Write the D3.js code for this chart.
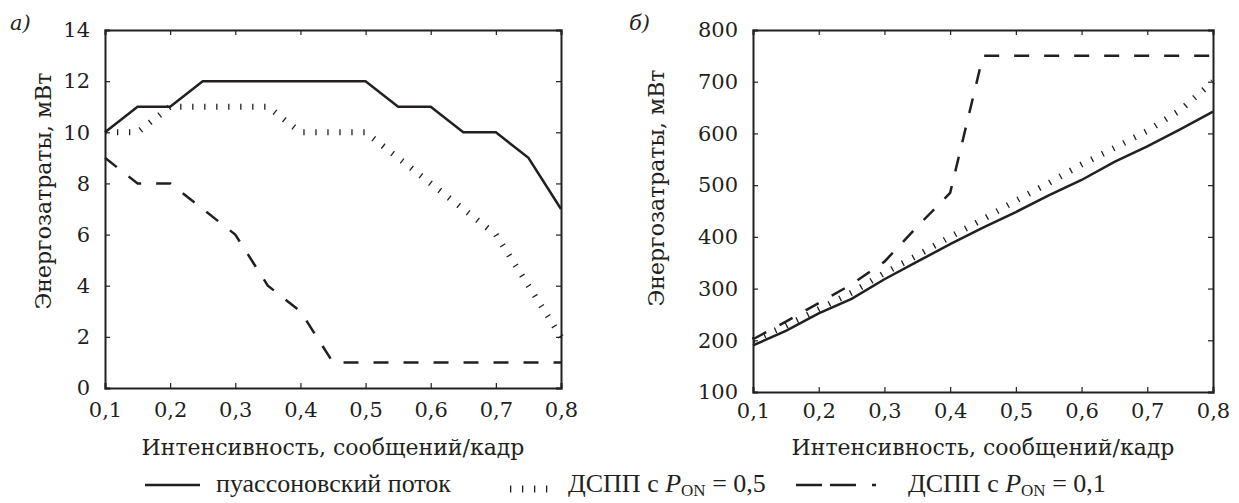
<!DOCTYPE html>
<html>
<head>
<meta charset="utf-8">
<script src="https://cdn.jsdelivr.net/npm/d3@7"></script>
<style>
  body { margin: 0; background: #fff; }
  svg text { font-family: "DejaVu Serif", serif; fill: #231f20; }
  .legend text { font-family: "Liberation Serif", serif; }
</style>
</head>
<body>
<div id="chart"></div>
<script>
// Intensity, messages/frame (x values shared by both panels)
var intensity = [0.1, 0.15, 0.2, 0.25, 0.3, 0.35, 0.4, 0.45, 0.5, 0.55, 0.6, 0.65, 0.7, 0.75, 0.8];
var xTicks = [0.1, 0.2, 0.3, 0.4, 0.5, 0.6, 0.7, 0.8];

// panel a) energy, mW
var poissonA = [10, 11, 11, 12, 12, 12, 12, 12, 12, 11, 11, 10, 10, 9, 7];
var onoff05A = [10, 10, 11, 11, 11, 11, 10, 10, 10, 9, 8, 7, 6, 4, 2];
var onoff01A = [9, 8, 8, 7, 6, 4, 3, 1, 1, 1, 1, 1, 1, 1, 1];
var yTicksA = [0, 2, 4, 6, 8, 10, 12, 14];

// panel b) energy, mW
var poissonB = [190, 218, 252, 280, 318, 352, 386, 418, 448, 480, 510, 545, 575, 608, 642];
var onoff05B = [200, 228, 260, 292, 330, 364, 400, 434, 470, 504, 540, 572, 605, 645, 700];
var onoff01B = [202, 236, 272, 308, 352, 420, 485, 750, 750, 750, 750, 750, 750, 750, 750];
var yTicksB = [100, 200, 300, 400, 500, 600, 700, 800];

var legendLabels = ["пуассоновский поток", "ДСПП с ", "ДСПП с "];
var legendP = ["", "0,5", "0,1"];

var fmt = function(d) { return String(d).replace(".", ","); };

var svg = d3.select("#chart").append("svg")
    .attr("width", 1239)
    .attr("height", 503);

// line styles for the three series
var styles = [
  {width: 2.5, dash: null},
  {width: 6, dash: "1.3,10.7"},
  {width: 2.5, dash: "15,15"}
];

const createPanel = (p) => {
  var x = d3.scaleLinear().domain([0.1, 0.8]).range([p.left, p.right]);
  var y = d3.scaleLinear().domain(p.yDomain).range([p.bottom, p.top]);

  var g = svg.append("g");

  var line = d3.line()
      .x(function(d, i) { return x(intensity[i]); })
      .y(function(d) { return y(d); });

  p.series.forEach(function(s, k) {
    g.append("path")
      .datum(s)
      .attr("d", line)
      .attr("fill", "none")
      .attr("stroke", "#231f20")
      .attr("stroke-width", styles[k].width)
      .attr("stroke-dasharray", styles[k].dash);
  });

  // axes, ticks inward on all four sides
  g.append("g")
      .attr("transform", "translate(0," + p.bottom + ")")
      .call(d3.axisBottom(x).tickValues(xTicks).tickSize(-5).tickPadding(p.xPad).tickFormat(fmt));
  g.append("g")
      .attr("transform", "translate(0," + p.top + ")")
      .call(d3.axisTop(x).tickValues(xTicks).tickSize(-5).tickFormat(""));
  g.append("g")
      .attr("transform", "translate(" + p.left + ",0)")
      .call(d3.axisLeft(y).tickValues(p.yTicks).tickSize(-5).tickPadding(15));
  g.append("g")
      .attr("transform", "translate(" + p.right + ",0)")
      .call(d3.axisRight(y).tickValues(p.yTicks).tickSize(-5).tickFormat(""));

  g.selectAll(".domain").attr("stroke", "#231f20").attr("stroke-width", 2);
  g.selectAll(".tick line").attr("stroke", "#231f20").attr("stroke-width", 1.2);
  g.selectAll(".tick text").style("font-size", "21px").attr("fill", "#231f20");

  // axis titles
  g.append("text")
      .attr("x", (p.left + p.right) / 2)
      .attr("y", 455)
      .attr("text-anchor", "middle")
      .style("font-size", "22px")
      .text("Интенсивность, сообщений/кадр");
  g.append("text")
      .attr("transform", "translate(" + p.yTitleX + "," + p.yTitleY + ") rotate(-90)")
      .attr("text-anchor", "middle")
      .style("font-size", "22px")
      .text("Энергозатраты, мВт");

  // panel letter
  g.append("text")
      .attr("x", p.letterX)
      .attr("y", 30)
      .style("font-size", "21px")
      .style("font-style", "italic")
      .text(p.letter);
};

createPanel({left: 105, right: 561, top: 30, bottom: 388, yDomain: [0, 14], yTicks: yTicksA,
  series: [poissonA, onoff05A, onoff01A], xPad: 14, yTitleX: 51, yTitleY: 191,
  letter: "а)", letterX: 10});
createPanel({left: 753, right: 1213, top: 30, bottom: 392, yDomain: [100, 800], yTicks: yTicksB,
  series: [poissonB, onoff05B, onoff01B], xPad: 11, yTitleX: 664, yTitleY: 188,
  letter: "б)", letterX: 629});

// Legend
var legend = svg.append("g").attr("class", "legend");
var ly = 485;
legend.append("line").attr("x1", 145).attr("x2", 200).attr("y1", ly).attr("y2", ly)
    .attr("stroke", "#231f20").attr("stroke-width", 2.5);
legend.append("line").attr("x1", 510).attr("x2", 550).attr("y1", ly + 4).attr("y2", ly + 4)
    .attr("stroke", "#231f20").attr("stroke-width", 7).attr("stroke-dasharray", "1.3,10.7");
legend.append("line").attr("x1", 796).attr("x2", 884).attr("y1", ly).attr("y2", ly)
    .attr("stroke", "#231f20").attr("stroke-width", 2.5).attr("stroke-dasharray", "26,8,26,16,4,20");

var lx = [216, 568, 908];
lx.forEach(function(xx, i) {
  var t = legend.append("text")
      .attr("x", xx)
      .attr("y", 492)
      .style("font-size", "26px")
      .text(legendLabels[i]);
  if (legendP[i]) {
    t.append("tspan").style("font-style", "italic").text("P");
    t.append("tspan").attr("dy", 4).style("font-size", "17px").text("ON");
    t.append("tspan").attr("dy", -4).text(" = " + legendP[i]);
  }
});
</script>
</body>
</html>
